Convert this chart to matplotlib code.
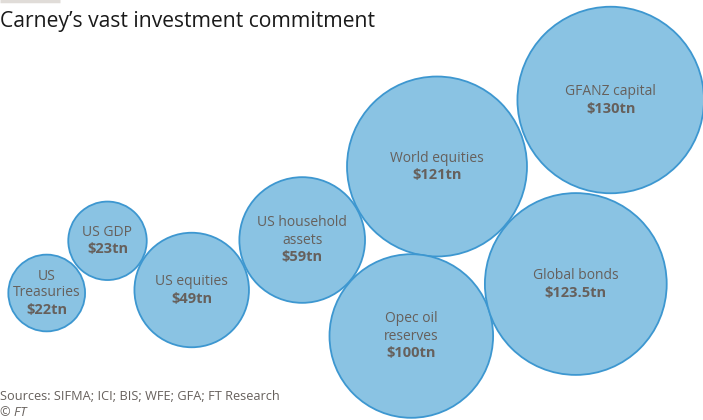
import numpy as np
import matplotlib
matplotlib.use('Agg')
import matplotlib.pyplot as plt
from matplotlib.patches import Circle

plt.rcParams['font.family'] = ['Open Sans', 'DejaVu Sans']

# data
names = ['US\nTreasuries', 'US GDP', 'US equities', 'US household\nassets',
         'World equities', 'Opec oil\nreserves', 'Global bonds', 'GFANZ capital']
values = [22, 23, 49, 59, 121, 100, 123.5, 130]
value_labels = ['$22tn', '$23tn', '$49tn', '$59tn', '$121tn', '$100tn', '$123.5tn', '$130tn']

# layout of the packed bubbles (pixel centres)
cx = [46.7, 107.5, 191.7, 302.2, 437.0, 411.3, 575.8, 610.7]
cy = [293.0, 240.8, 290.0, 240.0, 166.5, 336.0, 284.0, 100.0]
scale = 8.18  # radius px per sqrt(tn)

fill = '#8ac3e3'
edge = '#3d97d0'
txt = '#66605c'

fig = plt.figure(figsize=(7.03, 4.2), dpi=100)
ax = fig.add_axes([0, 0, 1, 1])
ax.set_xlim(0, 703)
ax.set_ylim(420, 0)
ax.axis('off')

for name, v, lab, x, y in zip(names, values, value_labels, cx, cy):
    r = scale * np.sqrt(v)
    ax.add_patch(Circle((x, y), r, facecolor=fill, edgecolor=edge, lw=1.3))
    lines = name.split('\n')
    n = len(lines) + 1
    step = 17
    for i, line in enumerate(lines + [lab]):
        yy = y + (i - (n - 1) / 2) * step
        bold = i == n - 1
        ax.text(x, yy, line, ha='center', va='center', fontsize=10.5 if bold else 10,
                color=txt, fontweight='bold' if bold else 'normal')

# title and footer
ax.plot([0, 60], [1, 1], color='#e0dcd8', lw=2.5, solid_capstyle='butt')
ax.text(0, 21, 'Carney\u2019s vast investment commitment', ha='left', va='center',
        fontsize=15.2, color='#1a1a1a')
ax.text(0, 397, 'Sources: SIFMA; ICI; BIS; WFE; GFA; FT Research', ha='left', va='center',
        fontsize=9.2, color=txt)
ax.text(0, 413, '\u00a9 FT', ha='left', va='center', fontsize=9.2, color=txt, style='italic')

plt.savefig('out.png', dpi=100)
plt.close()
